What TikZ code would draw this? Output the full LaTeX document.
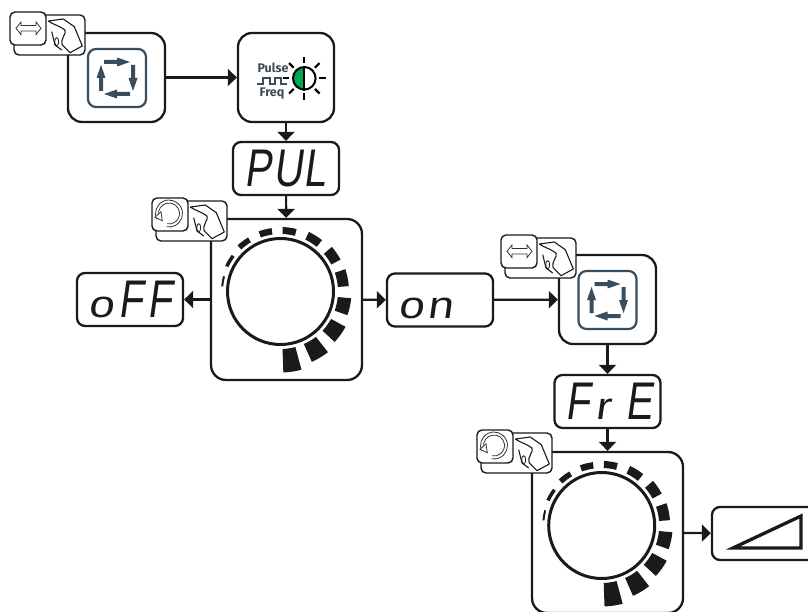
\documentclass[tikz,border=0pt]{standalone}
\usepackage{fontspec}
\usetikzlibrary{arrows.meta}
\newfontfamily\segfont[FakeSlant=0.14,FakeStretch=0.76]{Liberation Sans}
\newfontfamily\lowfont[FakeSlant=0.14,FakeStretch=1.2]{Liberation Sans}
\newfontfamily\keyfont[BoldFont=Fira Sans Bold]{Fira Sans}
\definecolor{slate}{HTML}{3A4D5C}
\definecolor{ledgreen}{HTML}{00A651}
\definecolor{inkblack}{HTML}{1A1A1A}
\newcommand{\seg}[1]{\makebox[30pt][l]{#1}}
\newcommand{\low}[1]{{\lowfont\fontsize{38}{38}\selectfont #1}}

\tikzset{
  panel/.style={draw=inkblack,line width=2.3pt,fill=white,rounded corners=14pt,inner sep=0pt},
  display/.style={panel,rounded corners=8pt,minimum width=106,minimum height=53,
    text width=84,align=left,text height=36,text depth=0,text=inkblack,
    font=\segfont\fontsize{53}{53}\selectfont},
  flow/.style={draw=inkblack,line width=2.2pt,-{Triangle[length=9pt,width=17pt]}},
  symline/.style={draw=black!80,line width=0.8pt},
  handbadge/.pic={
    \node[panel,line width=1.4pt,rounded corners=5pt,minimum width=71,minimum height=40] at (39.5,23) (-back) {};
    \node[panel,line width=1.4pt,rounded corners=5pt,minimum width=36,minimum height=33] at (18,16.5) (-front) {};
    \draw[inkblack,line width=1.1pt,line join=round] (38.3,9) -- (53.3,7) -- (64.3,14.7) -- (72.3,34) -- (60,40.7) -- (52.3,33)
      .. controls (50,26) and (57,22) .. (55,18) .. controls (50,14) and (42,12) .. (38.3,9);
    \draw[inkblack,line width=1.1pt] (41.7,19.7) -- (45,33) -- (51.7,38);
    \draw[inkblack,line width=0.8pt] (46.7,29.7) ellipse[x radius=2pt,y radius=4pt];
  },
  swapsym/.pic={
    \draw[symline] (6,16.3) -- (11,10) -- (11,13.5) -- (26,13.5) -- (26,10) -- (31,16.3)
      -- (26,22.6) -- (26,19) -- (11,19) -- (11,22.6) -- cycle;
  },
  dialsym/.pic={
    \draw[symline] (17,15.5) ++(205:13.5pt) arc[start angle=205,end angle=-100,radius=13.5pt];
    \draw[symline] (17,15.5) ++(190:10.5pt) arc[start angle=190,end angle=-100,radius=10.5pt];
    \draw[symline,fill=white] (3,19.3) -- (9,13.7) -- (10.3,22.7) -- cycle;
  },
  cyclesym/.pic={
    \node[draw=slate,line width=2.2pt,rounded corners=8pt,minimum size=58,inner sep=0pt] at (0,0) (-frame) {};
    \foreach \turn in {0,-90,-180,-270}
      \fill[slate,rotate=\turn] (-13,-18) -- (0,-18) -- (0,-20.5) -- (13,-16) -- (0,-11.5) -- (0,-14) -- (-13,-14) -- cycle;
  },
  dialsegs/.pic={
    \foreach \from/\to/\outer in {-88/-75/81,-66/-52/77,-43/-28.5/74,-19.5/-5.5/71,4.5/19/68.5,28/41/68,
        51/64.5/66,75.5/88/64.5,98/110/64,121/133/63,143/155/61,165/175/59.5}
      \fill[inkblack] (\from:57.5pt) arc[start angle=\from,end angle=\to,radius=57.5pt]
        -- (\to:\outer pt) arc[start angle=\to,end angle=\from,radius=\outer pt] -- cycle;
    \node[draw=inkblack,circle,line width=3pt,minimum size=106,inner sep=0pt] at (0,0) (-ring) {};
  },
}

\begin{document}
\begin{tikzpicture}[x=1pt,y=-1pt]

\clip (0,0) rectangle (808,612);

\node[panel,minimum width=97,minimum height=89] at (116.5,77.5) (cycleA) {};
\node[panel,minimum width=96,minimum height=89] at (286,77.5) (pulse) {};
\node[display] at (286,168.5) (pul) {\seg{P}\seg{U}L};
\node[panel,rounded corners=15pt,minimum width=151,minimum height=161] at (286.5,299.5) (knobA) {};
\node[display] at (130,299.5) (off) {\seg{\low{o}}\seg{F}F};
\node[display] at (440,300) (on) {\seg{\low{o}}\low{n}};
\node[panel,minimum width=97,minimum height=89] at (607.5,299.5) (cycleB) {};
\node[display] at (607.5,401.5) (fre) {\seg{F}\seg{\low{r}}E};
\node[panel,rounded corners=15pt,minimum width=151,minimum height=161] at (607.5,532.5) (knobB) {};
\node[display] at (765,533.5) (ramp) {};

\draw[flow] (cycleA) -- (pulse);
\draw[flow] (pulse) -- (pul);
\draw[flow] (pul) -- (knobA);
\draw[flow] (knobA) -- (off);
\draw[flow] (knobA) -- (on);
\draw[flow] (on) -- (cycleB);
\draw[flow] (cycleB) -- (fre);
\draw[flow] (fre) -- (knobB);
\draw[flow] (knobB) -- (ramp);

\pic at (117,78) (symA) {cyclesym};
\pic at (607.5,300) (symB) {cyclesym};
\pic at (280.5,291.5) (dialA) {dialsegs};
\pic at (601.7,525.5) (dialB) {dialsegs};

\pic at (10,12) (handA) {handbadge};
\pic at (10,12) {swapsym};
\pic at (152,198) (handB) {handbadge};
\pic at (152,198) {dialsym};
\pic at (501,235) (handC) {handbadge};
\pic at (501,235) {swapsym};
\pic at (477,430) (handD) {handbadge};
\pic at (477,430) {dialsym};

\node[text=slate,inner sep=0pt,font=\keyfont\bfseries\fontsize{12.5}{12.5}\selectfont] at (273,68) (pulseText) {Pulse};
\node[text=slate,inner sep=0pt,font=\keyfont\bfseries\fontsize{12.5}{12.5}\selectfont] at (272,94) (freqText) {Freq};
\draw[slate,line width=2.4pt] (257,84) -- (263,84) -- (263,78) -- (270,78) -- (270,84) -- (275,84) -- (275,78) -- (281,78) -- (281,84) -- (287,84);
\fill[ledgreen] (304.3,67) arc[start angle=90,end angle=270,radius=11.3pt] -- cycle;
\node[draw=black,circle,line width=2pt,minimum size=22.6,inner sep=0pt] at (304.3,78.3) (lamp) {};
\draw[black,line width=2pt] (lamp.north) -- (lamp.south);
\foreach \ray in {0,45,...,315}
  \draw[black,line width=2.2pt] (lamp.center) ++(\ray:15pt) -- ++(\ray:6.5pt);

\draw[inkblack,line width=3.3pt,line join=miter] (733,548) -- (801,516) -- (801,548) -- cycle;

\end{tikzpicture}
\end{document}
